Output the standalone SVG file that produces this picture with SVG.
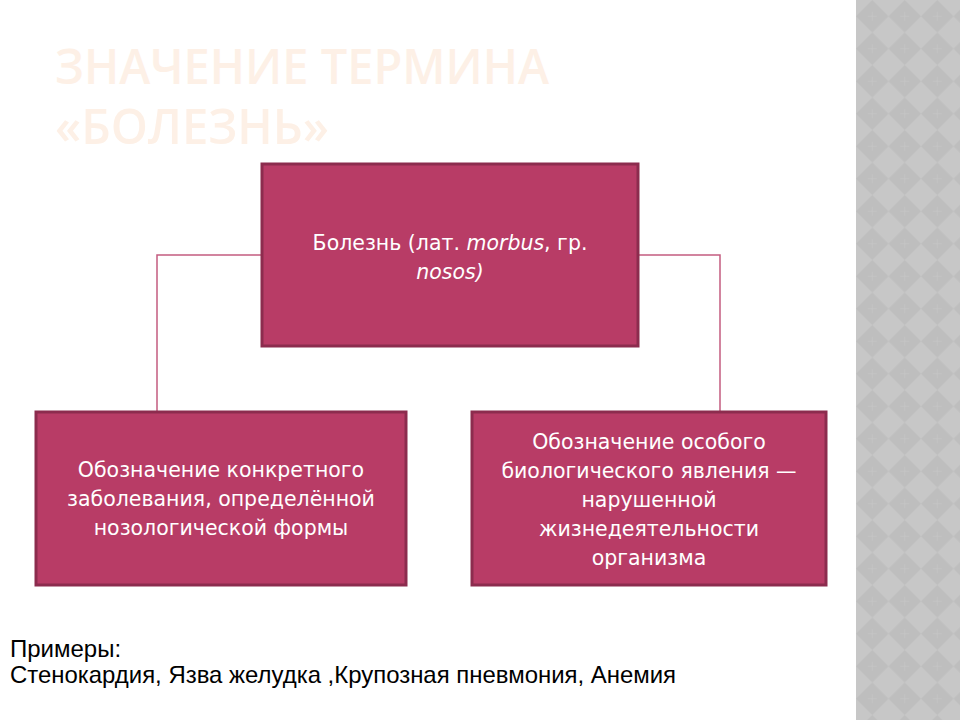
<svg xmlns="http://www.w3.org/2000/svg" width="960" height="720" viewBox="0 0 960 720">
<defs>
<pattern id="dia" x="856" y="0" width="32.5" height="32.5" patternUnits="userSpaceOnUse">
<rect width="32.5" height="32.5" fill="#c7c7c7"/>
<polygon points="16.25,0 32.5,16.25 16.25,32.5 0,16.25" fill="#bebebe"/>
<path d="M16.25 12 V20.5 M12 16.25 H20.5" stroke="#c5c5c5" stroke-width="0.8"/>
</pattern>
<style>
.box{fill:#b83c66;stroke:#8c2c4e;stroke-width:3}
.bt{font-family:"DejaVu Sans",sans-serif;font-size:20.5px;fill:#ffffff;text-anchor:middle}
.title{font-family:"Open Sans","DejaVu Sans",sans-serif;font-weight:600;font-size:49px;fill:#fdf0e6}
.conn{fill:none;stroke:#c45c80;stroke-width:1.5}
.ex{font-family:"Liberation Sans",Arial,sans-serif;font-size:24px;fill:#000000}
</style>
</defs>
<rect width="960" height="720" fill="#ffffff"/>
<rect x="856" y="0" width="104" height="720" fill="url(#dia)"/>
<g id="title">
<text class="title" x="55" y="84" textLength="494" lengthAdjust="spacingAndGlyphs">ЗНАЧЕНИЕ ТЕРМИНА</text>
<text class="title" x="55" y="144" textLength="274" lengthAdjust="spacingAndGlyphs">«БОЛЕЗНЬ»</text>
</g>
<g id="connectors">
<polyline class="conn" points="262,255 157,255 157,411"/>
<polyline class="conn" points="638,255 720,255 720,411"/>
</g>
<g id="top">
<rect class="box" x="262" y="164" width="376" height="182"/>
<text class="bt" x="450" y="250">Болезнь (лат. <tspan font-style="italic">morbus</tspan>, гр.</text>
<text class="bt" x="450" y="279"><tspan font-style="italic">nosos)</tspan></text>
</g>
<g id="left">
<rect class="box" x="36" y="412" width="370" height="173"/>
<text class="bt" x="221" y="477">Обозначение конкретного</text>
<text class="bt" x="221" y="506">заболевания, определённой</text>
<text class="bt" x="221" y="535">нозологической формы</text>
</g>
<g id="right">
<rect class="box" x="472" y="412" width="354" height="173"/>
<text class="bt" x="649" y="449">Обозначение особого</text>
<text class="bt" x="649" y="478">биологического явления —</text>
<text class="bt" x="649" y="507">нарушенной</text>
<text class="bt" x="649" y="536">жизнедеятельности</text>
<text class="bt" x="649" y="565">организма</text>
</g>
<g id="examples">
<text class="ex" x="10" y="657">Примеры:</text>
<text class="ex" x="10" y="683" textLength="666" lengthAdjust="spacingAndGlyphs">Стенокардия, Язва желудка ,Крупозная пневмония, Анемия</text>
</g>
</svg>
